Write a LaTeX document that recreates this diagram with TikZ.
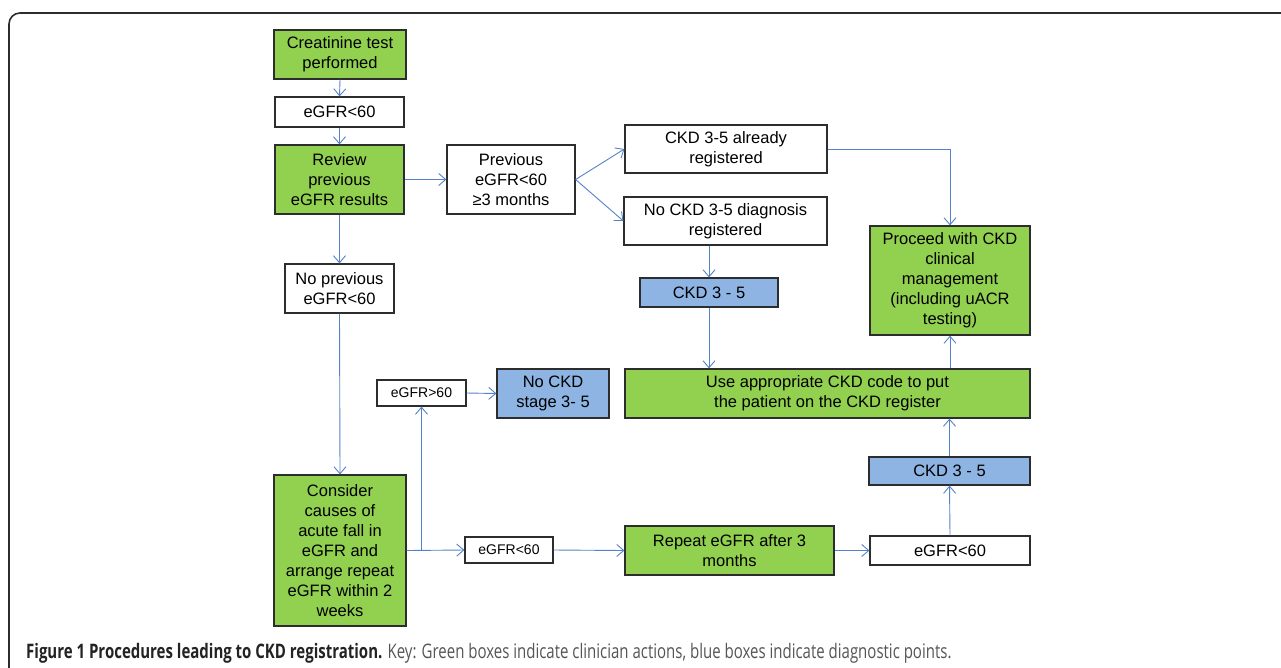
\documentclass[tikz,border=0pt]{standalone}
\usepackage{fontspec}
\setmainfont{Liberation Sans}
\newfontfamily\capfont[FakeStretch=0.75]{Open Sans}
\usetikzlibrary{arrows.meta}
\definecolor{boxgreen}{RGB}{146,208,80}
\definecolor{boxblue}{RGB}{141,180,226}
\definecolor{arrblue}{RGB}{84,130,200}
\definecolor{edge}{RGB}{45,45,45}
\tikzset{
  x=1pt, y=-1pt,
  box/.style={draw=edge, line width=1.2pt, inner sep=0pt, align=center,
    font=\fontsize{16.5}{20}\selectfont, text=black},
  gbox/.style={box, fill=boxgreen},
  bbox/.style={box, fill=boxblue},
  wbox/.style={box, fill=white},
  sbox/.style={wbox, font=\fontsize{14}{17}\selectfont},
  conn/.style={draw=arrblue, line width=0.9pt, -{Straight Barb[length=7pt,width=12pt]}},
}
\begin{document}
\begin{tikzpicture}
\useasboundingbox (0,0) rectangle (1281,667);
\clip (0,0) rectangle (1281,667);
\draw[edge, line width=1.6pt, rounded corners=11pt] (9,13) rectangle (1320,720);

\node[gbox, minimum width=132, minimum height=49] (creat) at (340,54.5) {Creatinine test\\performed};
\node[wbox, minimum width=129, minimum height=30] (egfr1) at (339.5,112) {eGFR<60};
\node[gbox, minimum width=129, minimum height=69] (review) at (339.5,179.5) {Review\\previous\\eGFR results};
\node[wbox, minimum width=128, minimum height=69] (prev) at (511,179.5) {Previous\\eGFR<60\\≥3 months};
\node[wbox, minimum width=202, minimum height=48] (already) at (726,149) {CKD 3-5 already\\registered};
\node[wbox, minimum width=203, minimum height=48] (nockd) at (725.5,221) {No CKD 3-5 diagnosis\\registered};
\node[bbox, minimum width=138, minimum height=29] (ckd1) at (709,292.5) {CKD 3 - 5};
\node[gbox, minimum width=160, minimum height=109] (proceed) at (950,280.5) {Proceed with CKD\\clinical\\management\\(including uACR\\testing)};
\node[wbox, minimum width=109, minimum height=49] (noprev) at (339.5,288.5) {No previous\\eGFR<60};
\node[sbox, minimum width=89, minimum height=26] (egfrgt) at (421.5,393) {eGFR>60};
\node[bbox, minimum width=112, minimum height=49] (nostage) at (553,393.5) {No CKD\\stage 3- 5};
\node[gbox, minimum width=405, minimum height=49] (use) at (827.5,393.5) {Use appropriate CKD code to put\\the patient on the CKD register};
\node[bbox, minimum width=161, minimum height=28] (ckd2) at (949.5,471) {CKD 3 - 5};
\node[gbox, minimum width=132, minimum height=151] (consider) at (340,550.5) {Consider\\causes of\\acute fall in\\eGFR and\\arrange repeat\\eGFR within 2\\weeks};
\node[sbox, minimum width=88, minimum height=26] (egfrlt2) at (509,550) {eGFR<60};
\node[gbox, minimum width=209, minimum height=49] (repeat) at (729.5,550.5) {Repeat eGFR after 3\\months};
\node[wbox, minimum width=160, minimum height=29] (egfrlt3) at (950,550.5) {eGFR<60};

\draw[conn] (creat.south) -- (egfr1.north);
\draw[conn] (egfr1.south) -- (review.north);
\draw[conn] (review.east) -- (prev.west);
\draw[conn] (prev.east) -- (already.west);
\draw[conn] (prev.east) -- (nockd.west);
\draw[conn] (already.east) -| (proceed.north);
\draw[conn] (ckd1.north |- nockd.south) -- (ckd1.north);
\draw[conn] (ckd1.south) -- (ckd1.south |- use.north);
\draw[conn] (review.south) -- (noprev.north);
\draw[conn] (noprev.south) -- (consider.north);
\draw[conn] (consider.east) -- (egfrlt2.west);
\coordinate (junc) at (egfrgt.south |- consider.east);
\draw[conn] (junc) -- (egfrgt.south);
\draw[conn] (egfrgt.east) -- (nostage.west);
\draw[conn] (egfrlt2.east) -- (repeat.west);
\draw[conn] (repeat.east) -- (egfrlt3.west);
\draw[conn] (egfrlt3.north) -- (ckd2.south);
\draw[conn] (ckd2.north) -- (ckd2.north |- use.south);
\draw[conn] (proceed.south |- use.north) -- (proceed.south);

\node[anchor=base west, inner sep=0pt, font=\capfont\fontsize{20}{24}\selectfont] (cap) at (26,658)
  {\textcolor[RGB]{35,35,35}{\bfseries Figure 1 Procedures leading to CKD registration.} \textcolor[RGB]{85,85,85}{Key: Green boxes indicate clinician actions, blue boxes indicate diagnostic points.}};
\end{tikzpicture}
\end{document}
